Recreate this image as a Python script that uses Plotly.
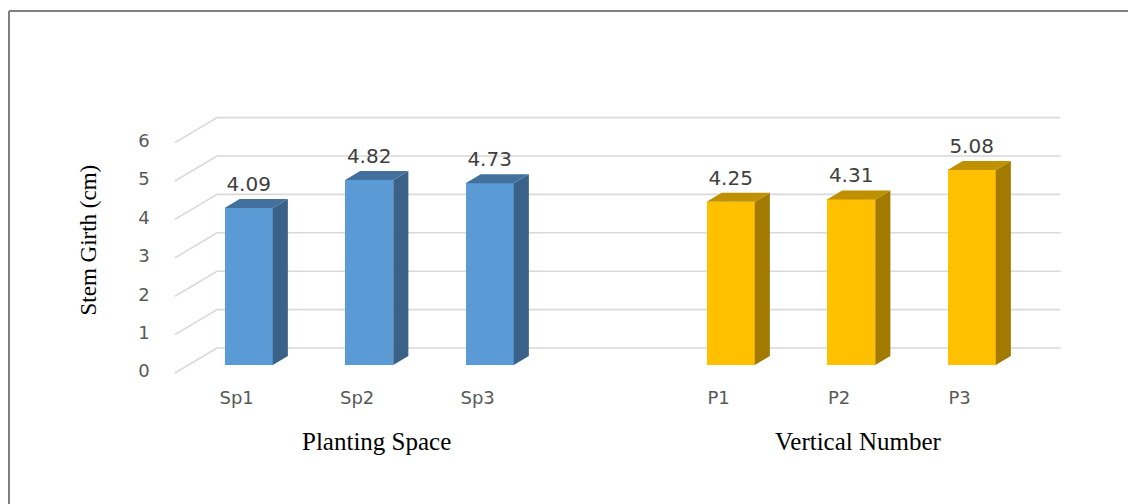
import plotly.graph_objects as go

# ---- data ----
categories = ["Sp1", "Sp2", "Sp3", "P1", "P2", "P3"]
slots = [0, 1, 2, 4, 5, 6]          # category positions (gap between the two groups)
values = [4.09, 4.82, 4.73, 4.25, 4.31, 5.08]
groups = ["Planting Space", "Vertical Number"]
group_members = [[0, 1, 2], [3, 4, 5]]
y_ticks = [0, 1, 2, 3, 4, 5, 6]

# ---- style / pseudo-3D geometry ----
front_col = ["#5B9BD5"] * 3 + ["#FFC000"] * 3
top_col = ["#41719C"] * 3 + ["#BF9000"] * 3
side_col = ["#3A6288"] * 3 + ["#A37A00"] * 3
BAR_W = 0.40
DX, DY = 0.3485, 0.651      # full depth of floor in (slot, value) units
F = 0.32                    # bar front plane depth fraction
BD = 0.36                   # bar depth fraction
XMIN, XMAX = -0.5, 6.5
grid_col = "#D9D9D9"

fig = go.Figure()

# gridlines (walls) as shapes below traces
shapes = []
for v in y_ticks:
    fx, fy = XMIN - F * DX, v - F * DY
    bx, by = XMIN + (1 - F) * DX, v + (1 - F) * DY
    rx = XMAX + (1 - F) * DX
    shapes.append(dict(type="path", path=f"M {fx},{fy} L {bx},{by} L {rx},{by}",
                       xref="x", yref="y", layer="below",
                       line=dict(color=grid_col, width=1.6)))

# frame lines
shapes.append(dict(type="line", xref="paper", yref="paper", x0=9 / 1128, x1=1.02,
                   y0=1 - 11 / 504, y1=1 - 11 / 504, line=dict(color="#808080", width=2)))
shapes.append(dict(type="line", xref="paper", yref="paper", x0=9 / 1128, x1=9 / 1128,
                   y0=-0.02, y1=1 - 11 / 504, line=dict(color="#808080", width=2)))

# front faces as bars
fig.add_trace(go.Bar(x=slots, y=values, width=BAR_W, marker=dict(color=front_col, line=dict(width=0)),
                     hoverinfo="skip", showlegend=False))

bdx, bdy = BD * DX, BD * DY
for s, v, tc, sc in zip(slots, values, top_col, side_col):
    xl, xr = s - BAR_W / 2, s + BAR_W / 2
    # side face
    fig.add_trace(go.Scatter(x=[xr, xr + bdx, xr + bdx, xr, xr], y=[0, bdy, v + bdy, v, 0],
                             mode="lines", fill="toself", fillcolor=sc, line=dict(width=0, color=sc),
                             hoverinfo="skip", showlegend=False))
    # top face
    fig.add_trace(go.Scatter(x=[xl, xr, xr + bdx, xl + bdx, xl], y=[v, v, v + bdy, v + bdy, v],
                             mode="lines", fill="toself", fillcolor=tc, line=dict(width=0, color=tc),
                             hoverinfo="skip", showlegend=False))

# data labels
fig.add_trace(go.Scatter(x=slots, y=[v + 0.58 for v in values], mode="text",
                         text=[f"{v:.2f}" for v in values], textposition="middle center",
                         textfont=dict(family="DejaVu Sans", size=20, color="#404040"),
                         hoverinfo="skip", showlegend=False))

# y tick labels
fig.add_trace(go.Scatter(x=[XMIN - F * DX - 0.257] * len(y_ticks), y=[t - F * DY for t in y_ticks],
                         mode="text", text=[str(t) for t in y_ticks], textposition="middle center",
                         textfont=dict(family="DejaVu Sans", size=18, color="#595959"),
                         hoverinfo="skip", showlegend=False))

# category labels
fig.add_trace(go.Scatter(x=[s - F * DX + 0.012 for s in slots], y=[-0.9] * len(slots), mode="text",
                         text=categories, textposition="middle center",
                         textfont=dict(family="DejaVu Sans", size=18, color="#595959"),
                         hoverinfo="skip", showlegend=False))

annotations = []
for g, members in zip(groups, group_members):
    cx = sum(slots[i] for i in members) / len(members) + 0.06
    annotations.append(dict(x=cx, y=-1.98, xref="x", yref="y", text=g, showarrow=False,
                            font=dict(family="Liberation Serif", size=25, color="#000000")))
annotations.append(dict(x=73 / 1128, y=1 - 240 / 504, xref="paper", yref="paper",
                        text="Stem Girth (cm)", textangle=-90, showarrow=False,
                        font=dict(family="Liberation Serif", size=23, color="#000000")))

fig.update_layout(
    width=1128, height=504, margin=dict(l=0, r=0, t=0, b=0),
    paper_bgcolor="white", plot_bgcolor="white",
    xaxis=dict(range=[-2.0635, 7.2975], visible=False, fixedrange=True),
    yaxis=dict(range=[-3.620, 9.505], visible=False, fixedrange=True),
    shapes=shapes, annotations=annotations, bargap=0,
)

fig.write_html("out.html")
